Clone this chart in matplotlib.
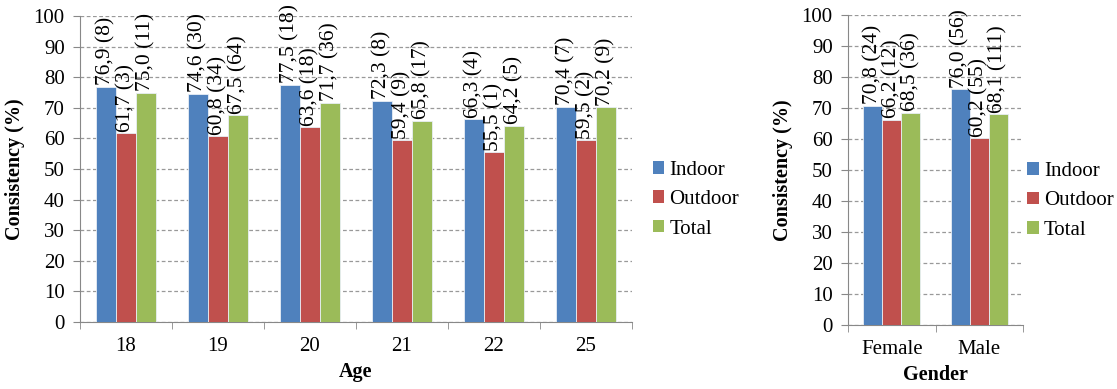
import matplotlib
matplotlib.use("Agg")
import matplotlib.pyplot as plt
import numpy as np
from matplotlib.patches import Patch

plt.rcParams['font.family'] = ['Liberation Serif', 'DejaVu Serif']

# Consistency by age group
ages = ["18", "19", "20", "21", "22", "25"]
age_indoor = [76.9, 74.6, 77.5, 72.3, 66.3, 70.4]
age_indoor_n = [8, 30, 18, 8, 4, 7]
age_outdoor = [61.7, 60.8, 63.6, 59.4, 55.5, 59.5]
age_outdoor_n = [3, 34, 18, 9, 1, 2]
age_total = [75.0, 67.5, 71.7, 65.8, 64.2, 70.2]
age_total_n = [11, 64, 36, 17, 5, 9]

# Consistency by gender
genders = ["Female", "Male"]
gen_indoor = [70.8, 76.0]
gen_indoor_n = [24, 56]
gen_outdoor = [66.2, 60.2]
gen_outdoor_n = [12, 55]
gen_total = [68.5, 68.1]
gen_total_n = [36, 111]

series_names = ["Indoor", "Outdoor", "Total"]
colors = ["#4F81BD", "#C0504D", "#9BBB59"]

W, H = 1117, 389
fig = plt.figure(figsize=(W / 100, H / 100), dpi=100)

TICK_FS = 15
LABEL_FS = 14.5
VALUE_FS = 15.5


def fmt(v, n):
    return f"{v:.1f}".replace(".", ",") + f" ({n})"


def draw(ax, cats, groups, xlabel):
    x = np.arange(len(cats))
    bw = 0.217
    for i, (vals, ns) in enumerate(groups):
        pos = x + (i - 1) * bw
        ax.bar(pos, vals, width=bw, color=colors[i], edgecolor="#e8eef5",
               linewidth=0.6, zorder=3)
        for p, v, n in zip(pos, vals, ns):
            ax.annotate(fmt(v, n), (p, v), xytext=(0, 1), textcoords="offset points",
                        rotation=90, ha="center", va="bottom", fontsize=VALUE_FS,
                        zorder=4)
    ax.set_xlim(-0.5, len(cats) - 0.5)
    ax.set_ylim(0, 100)
    ax.set_yticks(np.arange(0, 101, 10))
    ax.set_xticks(x)
    ax.set_xticklabels(cats, fontsize=TICK_FS)
    ax.set_xticks(np.arange(-0.5, len(cats), 1), minor=True)
    ax.tick_params(axis="x", which="major", length=0, pad=11)
    ax.tick_params(axis="x", which="minor", length=5, color="#888888")
    ax.tick_params(axis="y", length=5, color="#888888", labelsize=TICK_FS, pad=6)
    ax.yaxis.grid(True, linestyle=(0, (3, 2)), color="#999999", linewidth=0.9, zorder=0)
    for s in ["top", "right"]:
        ax.spines[s].set_visible(False)
    for s in ["left", "bottom"]:
        ax.spines[s].set_color("#888888")
    ax.set_ylabel("Consistency (%)", fontsize=LABEL_FS, fontweight="bold", labelpad=6)
    ax.set_xlabel(xlabel, fontsize=LABEL_FS, fontweight="bold", labelpad=4)


ax1 = fig.add_axes([80 / W, (H - 322) / H, (632 - 80) / W, (322 - 16) / H])
draw(ax1, ages, [(age_indoor, age_indoor_n), (age_outdoor, age_outdoor_n),
                 (age_total, age_total_n)], "Age")

ax2 = fig.add_axes([848 / W, (H - 325) / H, (1023 - 848) / W, (325 - 15) / H])
draw(ax2, genders, [(gen_indoor, gen_indoor_n), (gen_outdoor, gen_outdoor_n),
                    (gen_total, gen_total_n)], "Gender")

handles = [Patch(facecolor=c, edgecolor="none") for c in colors]
for ax, pad in ((ax1, 0.8), (ax2, 0.0)):
    ax.legend(handles, series_names, loc="center left", bbox_to_anchor=(1.0, 0.4),
              frameon=False, fontsize=15, handlelength=0.55, handleheight=0.55,
              handletextpad=0.25, labelspacing=0.5, borderaxespad=pad,
              borderpad=0.2)

fig.savefig("out.png", dpi=100)
